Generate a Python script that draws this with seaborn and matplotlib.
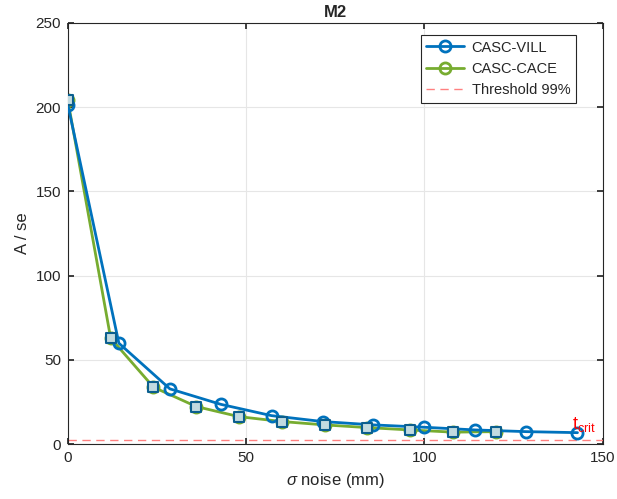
import matplotlib
matplotlib.use("Agg")
import matplotlib.pyplot as plt
import seaborn as sns
import pandas as pd

sns.set_theme(style="white")
plt.rcParams['font.family'] = ['Liberation Sans', 'DejaVu Sans']
plt.rcParams['mathtext.fontset'] = 'custom'
plt.rcParams['mathtext.rm'] = 'Liberation Sans'
plt.rcParams['mathtext.it'] = 'Liberation Sans:italic'

# data
vill_x = [0, 14.3, 28.6, 42.9, 57.1, 71.4, 85.7, 100.0, 114.3, 128.6, 142.9]
vill_y = [201.4, 59.9, 32.8, 23.6, 16.9, 13.4, 11.4, 10.0, 8.4, 7.4, 6.8]
cace_x = [0, 12, 24, 36, 48, 60, 72, 84, 96, 108, 120]
cace_y = [204.0, 62.9, 33.8, 22.3, 16.3, 13.4, 11.4, 9.8, 8.4, 7.1, 7.4]
threshold = 2.5
x_ticks = [0, 50, 100, 150]
y_ticks = [0, 50, 100, 150, 200, 250]

blue = '#0072BD'
green = '#77AC30'

df_v = pd.DataFrame({'x': vill_x, 'y': vill_y})
df_c = pd.DataFrame({'x': cace_x, 'y': cace_y})

fig = plt.figure(figsize=(6.17, 4.99), dpi=100)
ax = fig.add_axes([0.110, 0.110, 0.867, 0.844])

sns.lineplot(data=df_v, x='x', y='y', ax=ax, color=blue, lw=2, marker='o',
             markersize=8, markerfacecolor='none', markeredgecolor=blue,
             markeredgewidth=2, label='CASC-VILL', zorder=3)
sns.lineplot(data=df_c, x='x', y='y', ax=ax, color=green, lw=2, marker='o',
             markersize=8, markerfacecolor='none', markeredgecolor=green,
             markeredgewidth=2, label='CASC-CACE', zorder=2)
sns.scatterplot(data=df_c, x='x', y='y', ax=ax, marker='s', s=45,
                facecolor='#c2dbe0', edgecolor='#0b5f8f', linewidth=1.5,
                legend=False, zorder=4)
ax.axhline(threshold, color='#ff8080', lw=1, ls=(0, (6, 4)), label='Threshold 99%', zorder=1)

ax.text(141.5, 6.0, r'$\mathregular{t_{crit}}$', color='red', fontsize=13,
        ha='left', va='bottom')

ax.set_xlim(0, 150)
ax.set_ylim(0, 250)
ax.set_xticks(x_ticks)
ax.set_yticks(y_ticks)
ax.grid(True, color='#e6e6e6', lw=0.8)
ax.tick_params(direction='in', length=4, labelsize=11, colors='#262626',
               top=True, right=True, bottom=True, left=True, pad=5)
for s in ax.spines.values():
    s.set_color('#262626')
    s.set_linewidth(0.8)
ax.set_xlabel(r'$\sigma$ noise (mm)', fontsize=12, color='#262626')
ax.set_ylabel('A / se', fontsize=12, color='#262626')
ax.set_title('M2', fontsize=12, fontweight='bold', pad=4)

leg = ax.legend(loc='upper right', bbox_to_anchor=(0.950, 0.972), borderaxespad=0,
                fontsize=10.5, frameon=True, fancybox=False,
                edgecolor='#262626', handlelength=2.6, handletextpad=0.5,
                framealpha=1)
leg.get_frame().set_linewidth(0.8)

fig.savefig('out.png', dpi=100)
